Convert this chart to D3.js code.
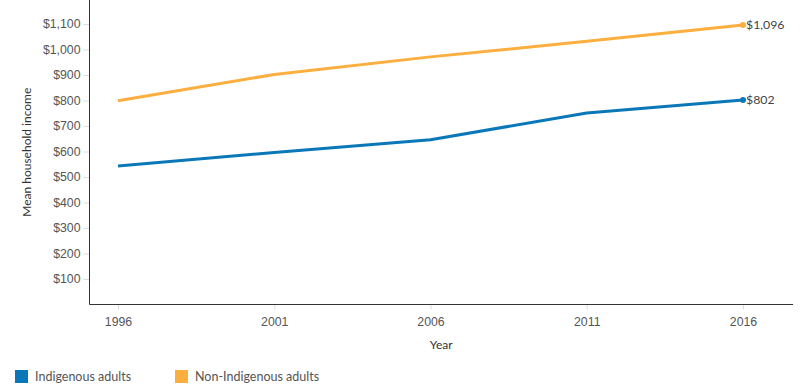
<!DOCTYPE html>
<html>
<head>
<meta charset="utf-8">
<script src="https://cdn.jsdelivr.net/npm/d3@7"></script>
<style>
  body { margin: 0; background: #fff; }
  svg { display: block; font-family: Lato, "Noto Sans", sans-serif; }
</style>
</head>
<body>
<svg id="chart" width="800" height="390"></svg>
<script>
// Datos
const years = [1996, 2001, 2006, 2011, 2016];
const indigenous = [543, 596, 646, 751, 802];
const nonIndigenous = [799, 902, 971, 1032, 1096];
const yTicks = [100, 200, 300, 400, 500, 600, 700, 800, 900, 1000, 1100];
const seriesNames = ['Indigenous adults', 'Non-Indigenous adults'];
const seriesColors = ['#0a78b8', '#fcae3e'];

const svg = d3.select('#chart');
const plotLeft = 89.5, plotRight = 793, plotTop = 0, plotBottom = 304.5;

const x = d3.scalePoint().domain(years).range([118, 743]);
const y = d3.scaleLinear().domain([0, 1194]).range([plotBottom, plotTop]);

const fmt = d => '$' + d3.format(',')(d);

// eje Y
const yAxis = svg.append('g')
  .attr('transform', `translate(${plotLeft},0)`)
  .call(d3.axisLeft(y).tickValues(yTicks).tickFormat(fmt).tickSize(6).tickPadding(3));
yAxis.select('.domain').remove();
yAxis.selectAll('.tick line').attr('stroke', '#ddd');
yAxis.selectAll('.tick text').attr('fill', '#555').style('font-size', '12.3px');

// eje X
const xAxis = svg.append('g')
  .attr('transform', `translate(0,${plotBottom})`)
  .call(d3.axisBottom(x).tickSize(5).tickPadding(8));
xAxis.select('.domain').remove();
xAxis.selectAll('.tick line').attr('stroke', '#ddd');
xAxis.selectAll('.tick text').attr('fill', '#555').style('font-size', '12.3px');

// líneas de ejes
svg.append('line').attr('x1', plotLeft).attr('x2', plotLeft).attr('y1', plotTop).attr('y2', plotBottom)
  .attr('stroke', '#333').attr('stroke-width', 1);
svg.append('line').attr('x1', plotLeft).attr('x2', plotRight).attr('y1', plotBottom).attr('y2', plotBottom)
  .attr('stroke', '#333').attr('stroke-width', 1);

// títulos
svg.append('text')
  .attr('transform', `translate(31,${(plotTop + plotBottom) / 2}) rotate(-90)`)
  .attr('text-anchor', 'middle')
  .attr('fill', '#333')
  .style('font-size', '12px')
  .text('Mean household income');

svg.append('text')
  .attr('x', (plotLeft + plotRight) / 2).attr('y', 349)
  .attr('text-anchor', 'middle')
  .attr('fill', '#333')
  .style('font-size', '12px')
  .text('Year');

// series
const series = [indigenous, nonIndigenous];
const line = d3.line().x((d, i) => x(years[i])).y(d => y(d));

series.forEach((vals, s) => {
  svg.append('path')
    .datum(vals)
    .attr('d', line)
    .attr('fill', 'none')
    .attr('stroke', seriesColors[s])
    .attr('stroke-width', 3)
    .attr('stroke-linejoin', 'round');

  const last = vals.length - 1;
  svg.append('circle')
    .attr('cx', x(years[last])).attr('cy', y(vals[last])).attr('r', 3)
    .attr('fill', seriesColors[s]);

  svg.append('text')
    .attr('x', x(years[last]) + 3).attr('y', y(vals[last]) + 4)
    .attr('fill', '#444')
    .style('font-size', '12.3px')
    .text(fmt(vals[last]));
});

// leyenda
const legendX = [15, 175];
seriesNames.forEach((name, i) => {
  const g = svg.append('g').attr('transform', `translate(${legendX[i]},370)`);
  g.append('rect').attr('width', 13).attr('height', 13).attr('fill', seriesColors[i]);
  g.append('text').attr('x', 20).attr('y', 11)
    .attr('fill', '#555').style('font-size', '12.5px').text(name);
});
</script>
</body>
</html>
